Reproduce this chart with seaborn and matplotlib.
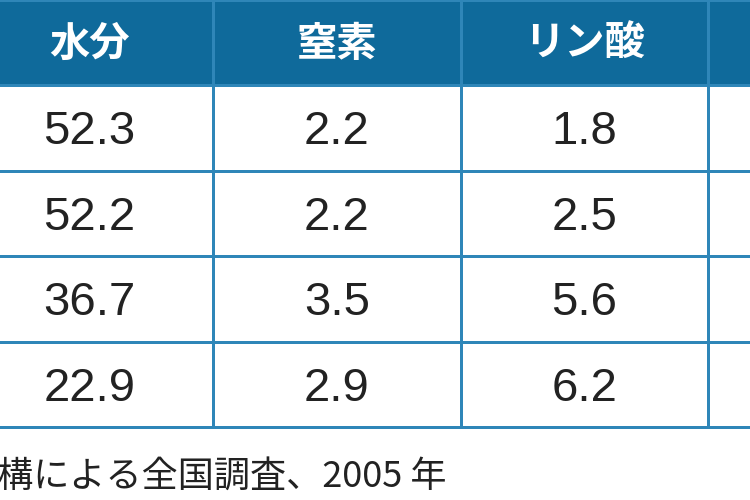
import numpy as np
import pandas as pd
import seaborn as sns
import matplotlib.pyplot as plt
from matplotlib.colors import ListedColormap

# table content
headers = ['水分', '窒素', 'リン酸', '']
water = ['52.3', '52.2', '36.7', '22.9']
nitrogen = ['2.2', '2.2', '3.5', '2.9']
phosphate = ['1.8', '2.5', '5.6', '6.2']
note = '機構による全国調査、2005 年'

sns.set_theme(style='white')
plt.rcParams['font.family'] = ['Noto Sans CJK JP', 'DejaVu Sans']

labels = [headers] + [[w, n, p, ''] for w, n, p in zip(water, nitrogen, phosphate)]
kind = np.zeros((5, 4))
kind[0, :] = 1
df = pd.DataFrame(kind)

fig = plt.figure(figsize=(7.5, 5), dpi=100)
ax = fig.add_axes([0, 0, 1, 1])
sns.heatmap(df, ax=ax, cmap=ListedColormap(['#ffffff', '#0f6a9b']), cbar=False,
            linewidths=2.0, linecolor='#2f86b8', annot=False,
            xticklabels=False, yticklabels=False)

for r, row in enumerate(labels):
    for c, txt in enumerate(row):
        if r == 0:
            ax.text(c + 0.5, r + 0.52, txt, ha='center', va='center', color='white',
                    fontsize=29, fontweight='bold')
        else:
            ax.text(c + 0.5, r + 0.55, txt, ha='center', va='center', color='#222222',
                    fontsize=34, family=['Liberation Sans', 'DejaVu Sans'])

ax.text(-0.02, 5.58, note, ha='left', va='center', color='#222222', fontsize=26)

ax.set_xlim(0.138, 3.17)
ax.set_ylim(5.85, 0.0)
ax.set_axis_off()
fig.savefig('out.png', dpi=100)
